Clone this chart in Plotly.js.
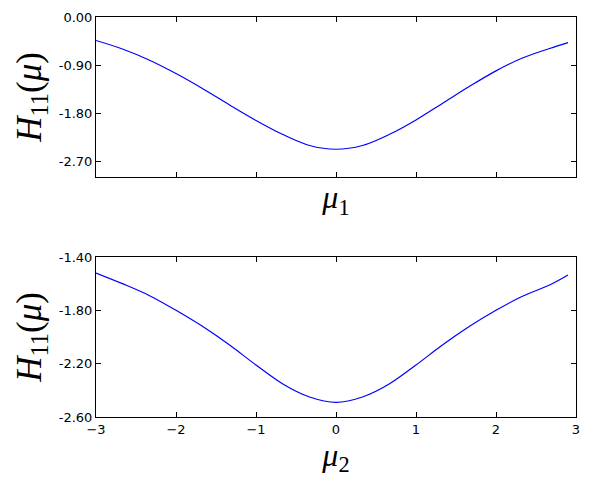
<!DOCTYPE html>
<html>
<head>
<meta charset="utf-8">
<script src="https://cdn.plot.ly/plotly-3.0.1.min.js"></script>
<style>html,body{margin:0;padding:0;background:#fff;}#chart{width:590px;height:486px;}</style>
</head>
<body>
<div id="chart"></div>
<script>
const mu = [-3, -2.67, -2.33, -2, -1.67, -1.33, -1, -0.67, -0.33, 0, 0.33, 0.67, 1, 1.33, 1.67, 2, 2.33, 2.67, 2.9];
const h11_mu1 = [-0.44, -0.60, -0.81, -1.06, -1.34, -1.65, -1.94, -2.20, -2.41, -2.48, -2.41, -2.20, -1.93, -1.62, -1.30, -1.01, -0.77, -0.59, -0.48];
const h11_mu2 = [-1.52, -1.60, -1.69, -1.80, -1.92, -2.06, -2.21, -2.35, -2.45, -2.49, -2.45, -2.35, -2.21, -2.06, -1.92, -1.80, -1.695, -1.61, -1.535];
const xTicks = [-3, -2, -1, 0, 1, 2, 3];
const xTickText = ['\u22123', '\u22122', '\u22121', '0', '1', '2', '3'];
const yTicksTop = [0, -0.9, -1.8, -2.7];
const yTickTextTop = ['0.00', '-0.90', '-1.80', '-2.70'];
const yTicksBot = [-1.4, -1.8, -2.2, -2.6];
const yTickTextBot = ['-1.40', '-1.80', '-2.20', '-2.60'];

const lineStyle = {color: '#0000ff', width: 1.2, shape: 'spline', smoothing: 1};
const traces = [
  {x: mu, y: h11_mu1, xaxis: 'x', yaxis: 'y', mode: 'lines', line: lineStyle, hoverinfo: 'skip'},
  {x: mu, y: h11_mu2, xaxis: 'x2', yaxis: 'y2', mode: 'lines', line: lineStyle, hoverinfo: 'skip'}
];

const tickFont = {family: 'DejaVu Sans', size: 13, color: '#000'};
const xTitleFont = {family: 'Liberation Serif', size: 32, color: '#000'};
const yTitleFont = {family: 'Liberation Serif', size: 35, color: '#000'};
const axBase = {
  showline: true, linecolor: '#000', linewidth: 1, mirror: 'ticks',
  ticks: 'inside', ticklen: 5, tickwidth: 1, tickcolor: '#000',
  showgrid: false, zeroline: false, tickfont: tickFont, fixedrange: true
};

const layout = {
  width: 590, height: 486,
  margin: {l: 96, r: 14, t: 17, b: 69},
  paper_bgcolor: '#fff', plot_bgcolor: '#fff',
  showlegend: false,
  xaxis: Object.assign({}, axBase, {
    domain: [0, 1], anchor: 'y', range: [-3, 3],
    tickvals: xTicks, ticktext: xTickText, showticklabels: false,
    title: {text: '<i>μ</i><sub>1</sub>', font: xTitleFont, standoff: 8}
  }),
  yaxis: Object.assign({}, axBase, {
    domain: [0.6, 1], anchor: 'x', range: [-3, 0],
    tickvals: yTicksTop, ticktext: yTickTextTop,
    title: {text: '<i>H</i><sub>11</sub>(<i>μ</i>)', font: yTitleFont, standoff: 6}
  }),
  xaxis2: Object.assign({}, axBase, {
    domain: [0, 1], anchor: 'y2', range: [-3, 3],
    tickvals: xTicks, ticktext: xTickText,
    title: {text: '<i>μ</i><sub>2</sub>', font: xTitleFont, standoff: 6}
  }),
  yaxis2: Object.assign({}, axBase, {
    domain: [0, 0.4], anchor: 'x2', range: [-2.6, -1.4],
    tickvals: yTicksBot, ticktext: yTickTextBot,
    title: {text: '<i>H</i><sub>11</sub>(<i>μ</i>)', font: yTitleFont, standoff: 6}
  })
};

Plotly.newPlot('chart', traces, layout, {displayModeBar: false, staticPlot: true});
</script>
</body>
</html>
